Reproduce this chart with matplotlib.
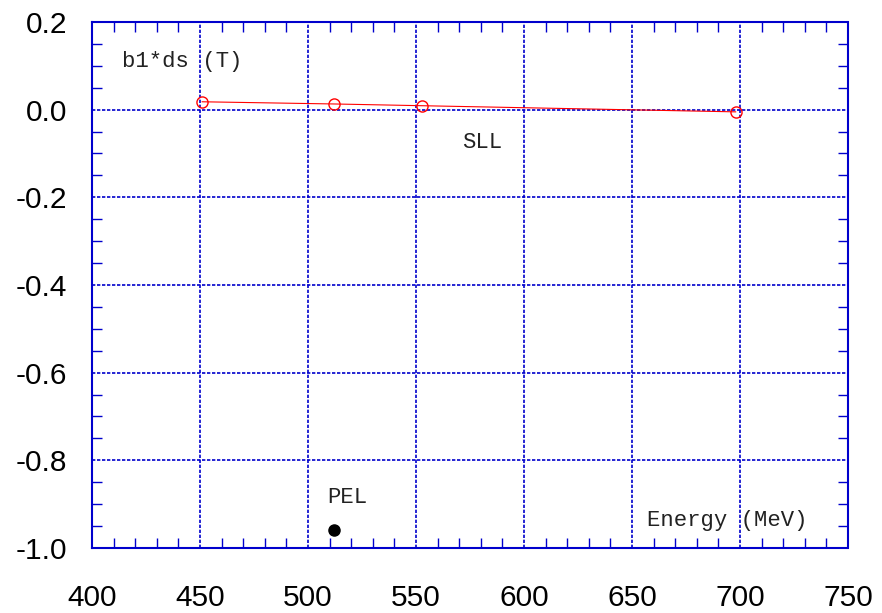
import matplotlib.pyplot as plt
import numpy as np
from matplotlib.ticker import MultipleLocator

# b1*ds vs energy
energy_sll = [451, 512, 553, 698]
b1ds_sll = [0.018, 0.013, 0.009, -0.005]
energy_pel = [512]
b1ds_pel = [-0.96]

xticks = [400, 450, 500, 550, 600, 650, 700, 750]
yticks = [-1.0, -0.8, -0.6, -0.4, -0.2, 0.0, 0.2]

fig = plt.figure(figsize=(8.82, 6.13), dpi=100)
ax = fig.add_axes([92/882, 1 - 548/613, (848-92)/882, (548-22)/613])

ax.set_xlim(400, 750)
ax.set_ylim(-1.0, 0.2)
ax.set_xticks(xticks)
ax.set_yticks(yticks)
ax.set_xticklabels([str(t) for t in xticks])
ax.set_yticklabels(['%.1f' % t for t in yticks])
ax.xaxis.set_minor_locator(MultipleLocator(10))
ax.yaxis.set_minor_locator(MultipleLocator(0.05))

ax.tick_params(which='both', direction='in', colors='#0000cc', top=True, right=True,
               labelcolor='black', labelsize=21.5)
ax.tick_params(which='major', length=0)
ax.tick_params(which='minor', length=7, width=1)
ax.tick_params(axis='x', pad=26)
ax.tick_params(axis='y', pad=18)
for lab in ax.get_xticklabels() + ax.get_yticklabels():
    lab.set_family('Liberation Sans')

for name, s in ax.spines.items():
    s.set_color('#0000cc')
    s.set_linewidth(1.5)
    if name != 'right':
        s.set_linestyle((0, (2, 1)))

ax.grid(True, which='major', color='#0000cc', linestyle=(0, (2, 1)), linewidth=1.2)

ax.plot(energy_sll, b1ds_sll, color='red', linewidth=0.8, marker='o', markersize=8,
        markerfacecolor='none', markeredgecolor='red', markeredgewidth=1, zorder=3)
ax.plot(energy_pel, b1ds_pel, 'o', color='black', markersize=8, zorder=3)

mono = dict(family='Liberation Mono', fontsize=16, color='#222222')
ax.text(414, 0.11, 'b1*ds (T)', va='center', ha='left', **mono)
ax.text(571.5, -0.075, 'SLL', va='center', ha='left', **mono)
ax.text(509, -0.885, 'PEL', va='center', ha='left', **mono)
ax.text(657, -0.938, 'Energy (MeV)', va='center', ha='left', **mono)

fig.savefig('out.png', dpi=100)
